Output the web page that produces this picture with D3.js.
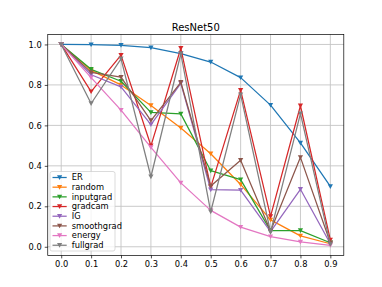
<!DOCTYPE html>
<html>
<head>
<meta charset="utf-8">
<script src="https://cdn.jsdelivr.net/npm/d3@7"></script>
<style>
  body { margin: 0; background: #fff; }
  svg { display: block; font-family: "DejaVu Sans", sans-serif; }
</style>
</head>
<body>
<svg id="chart" width="382" height="287" viewBox="0 0 382 287"></svg>
<script>
// x positions (fraction removed)
const fractions = [0.0, 0.1, 0.2, 0.3, 0.4, 0.5, 0.6, 0.7, 0.8, 0.9];
const methods = ["ER", "random", "inputgrad", "gradcam", "IG", "smoothgrad", "energy", "fullgrad"];

// values
const er         = [1.0, 0.999, 0.996, 0.984, 0.955, 0.913, 0.836, 0.700, 0.513, 0.298];
const random     = [1.0, 0.872, 0.800, 0.698, 0.587, 0.460, 0.308, 0.133, 0.054, 0.015];
const inputgrad  = [1.0, 0.877, 0.818, 0.664, 0.657, 0.376, 0.332, 0.080, 0.080, 0.020];
const gradcam    = [1.0, 0.767, 0.947, 0.499, 0.981, 0.295, 0.774, 0.150, 0.697, 0.034];
const ig         = [1.0, 0.850, 0.790, 0.604, 0.808, 0.282, 0.280, 0.075, 0.284, 0.015];
const smoothgrad = [1.0, 0.862, 0.838, 0.624, 0.813, 0.300, 0.428, 0.078, 0.442, 0.020];
const energy     = [1.0, 0.836, 0.675, 0.491, 0.316, 0.180, 0.097, 0.050, 0.024, 0.007];
const fullgrad   = [1.0, 0.708, 0.929, 0.346, 0.954, 0.173, 0.752, 0.072, 0.658, 0.012];

const xTicks = [0.0, 0.1, 0.2, 0.3, 0.4, 0.5, 0.6, 0.7, 0.8, 0.9];
const yTicks = [0.0, 0.2, 0.4, 0.6, 0.8, 1.0];

const seriesValues = [er, random, inputgrad, gradcam, ig, smoothgrad, energy, fullgrad];
const colors = d3.schemeCategory10;

const svg = d3.select("#chart");
const width = 382, height = 287;
const margin = { left: 47.75, right: 382 - 343.8, top: 34.4, bottom: 287 - 255.4 };

// matplotlib-style 5% padding on both axes
const allVals = seriesValues.flat();
const yMin = d3.min(allVals), yMax = d3.max(allVals);
const yPad = (yMax - yMin) * 0.05;
const xPad = (d3.max(fractions) - d3.min(fractions)) * 0.05;

const x = d3.scaleLinear()
    .domain([d3.min(fractions) - xPad, d3.max(fractions) + xPad])
    .range([margin.left, width - margin.right]);
const y = d3.scaleLinear()
    .domain([yMin - yPad, yMax + yPad])
    .range([height - margin.bottom, margin.top]);

// grid
const grid = svg.append("g");
grid.selectAll(".gx").data(xTicks).enter().append("line")
    .attr("x1", d => x(d)).attr("x2", d => x(d))
    .attr("y1", margin.top).attr("y2", height - margin.bottom)
    .attr("stroke", "#c4c4c4").attr("stroke-width", 0.9);
grid.selectAll(".gy").data(yTicks).enter().append("line")
    .attr("x1", margin.left).attr("x2", width - margin.right)
    .attr("y1", d => y(d)).attr("y2", d => y(d))
    .attr("stroke", "#c4c4c4").attr("stroke-width", 0.9);

// axes
const xAxis = d3.axisBottom(x).tickValues(xTicks).tickFormat(d3.format(".1f"))
    .tickSize(3).tickPadding(3);
const yAxis = d3.axisLeft(y).tickValues(yTicks).tickFormat(d3.format(".1f"))
    .tickSize(3).tickPadding(3);

svg.append("g")
    .attr("transform", `translate(0,${height - margin.bottom})`)
    .call(xAxis)
    .call(g => g.select(".domain").remove())
    .call(g => g.selectAll("line").attr("stroke", "#000").attr("stroke-width", 0.7))
    .call(g => g.selectAll("text").attr("font-size", 8.3).attr("fill", "#000")
        .attr("font-family", "DejaVu Sans"));

svg.append("g")
    .attr("transform", `translate(${margin.left},0)`)
    .call(yAxis)
    .call(g => g.select(".domain").remove())
    .call(g => g.selectAll("line").attr("stroke", "#000").attr("stroke-width", 0.7))
    .call(g => g.selectAll("text").attr("font-size", 8.3).attr("fill", "#000")
        .attr("font-family", "DejaVu Sans"));

// lines and markers
const line = d3.line().x((d, i) => x(fractions[i])).y(d => y(d));
const tri = 2.6;
const triPath = `M${-tri},${-tri * 0.85}L${tri},${-tri * 0.85}L0,${tri * 0.95}Z`;

const plot = svg.append("g");
seriesValues.forEach((vals, k) => {
    const g = plot.append("g");
    g.append("path")
        .datum(vals)
        .attr("d", line)
        .attr("fill", "none")
        .attr("stroke", colors[k])
        .attr("stroke-width", 1.25)
        .attr("stroke-linejoin", "round");
    g.selectAll(".m").data(vals).enter().append("path")
        .attr("d", triPath)
        .attr("transform", (d, i) => `translate(${x(fractions[i])},${y(d)})`)
        .attr("fill", colors[k]);
});

// frame
svg.append("rect")
    .attr("x", margin.left).attr("y", margin.top)
    .attr("width", width - margin.left - margin.right)
    .attr("height", height - margin.top - margin.bottom)
    .attr("fill", "none").attr("stroke", "#000").attr("stroke-width", 0.7);

// title
svg.append("text")
    .attr("x", (margin.left + width - margin.right) / 2)
    .attr("y", 30.5)
    .attr("text-anchor", "middle")
    .attr("font-size", 10)
    .text("ResNet50");

// legend
const lg = svg.append("g").attr("transform", "translate(50,171.5)");
lg.append("rect")
    .attr("width", 65).attr("height", 79.5)
    .attr("rx", 2)
    .attr("fill", "#fff").attr("fill-opacity", 0.8)
    .attr("stroke", "#cccccc").attr("stroke-width", 0.7);
methods.forEach((m, k) => {
    const yy = 6 + k * 9.68;
    lg.append("line")
        .attr("x1", 2.5).attr("x2", 16.7)
        .attr("y1", yy).attr("y2", yy)
        .attr("stroke", colors[k]).attr("stroke-width", 1.25);
    lg.append("path")
        .attr("d", triPath)
        .attr("transform", `translate(9.6,${yy})`)
        .attr("fill", colors[k]);
    lg.append("text")
        .attr("x", 21.8).attr("y", yy)
        .attr("dy", "0.35em")
        .attr("font-size", 8.3)
        .text(m);
});
</script>
</body>
</html>
